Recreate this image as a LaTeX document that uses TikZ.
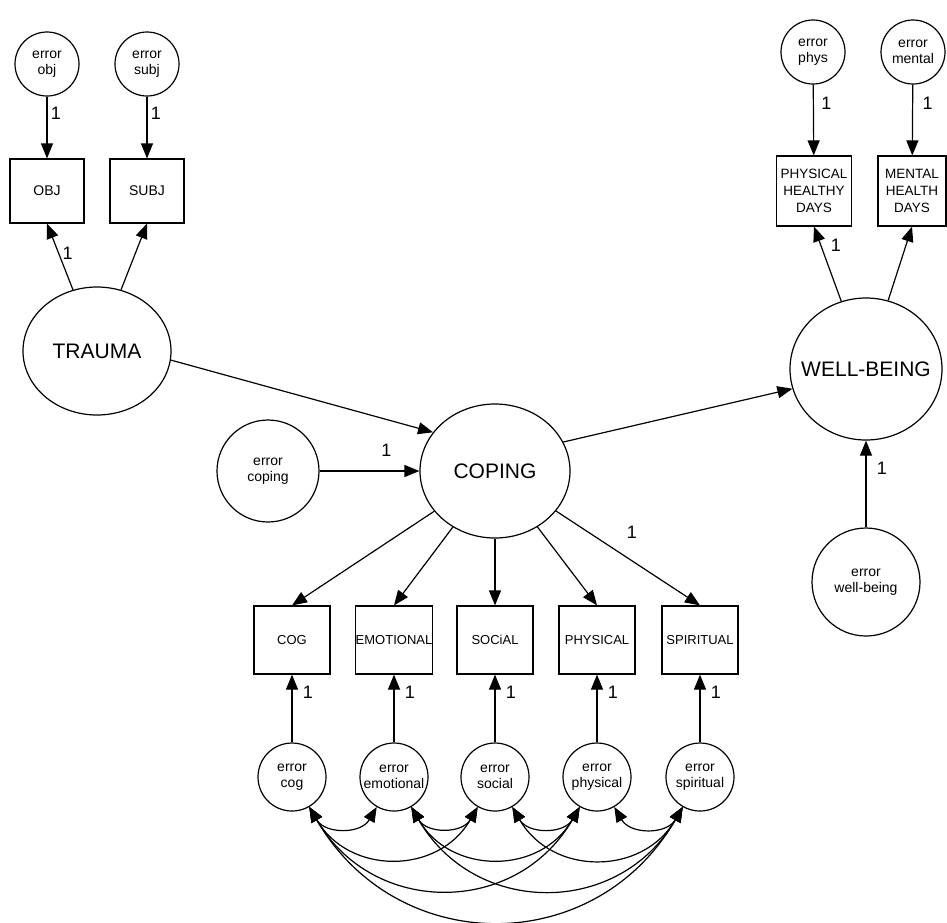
\documentclass[tikz,border=0pt]{standalone}
\usepackage{fontspec}
\setmainfont{Liberation Sans}
\usetikzlibrary{shapes.geometric,arrows.meta}

\tikzset{
  latent/.style={draw, ellipse, line width=1.2pt, inner sep=0pt, font=\fontsize{21}{24}\selectfont},
  errvar/.style={draw, circle, line width=1.2pt, inner sep=0pt, minimum size=64pt, align=center, font=\fontsize{14}{16}\selectfont},
  obsbox/.style={draw, rectangle, line width=1.2pt, inner sep=0pt, minimum width=76pt, minimum height=68pt, align=center, font=\fontsize{13}{17}\selectfont},
  regr/.style={-{Triangle[length=15pt,width=12pt]}, line width=1.2pt},
  cov/.style={{Triangle[length=15pt,width=12pt]}-{Triangle[length=15pt,width=12pt]}, line width=1.2pt},
  wt/.style={font=\fontsize{18}{18}\selectfont}
}

\begin{document}
\begin{tikzpicture}[x=1pt,y=1pt]
  \useasboundingbox (0,0) rectangle (947,-922);

  % trauma
  \node[errvar] (eobj) at (47,-64) {error\\obj};
  \node[errvar] (esubj) at (147,-64) {error\\subj};
  \node[obsbox, minimum width=74pt, minimum height=64pt, font=\fontsize{14}{16}\selectfont] (obj) at (47,-191) {OBJ};
  \node[obsbox, minimum width=74pt, minimum height=64pt, font=\fontsize{14}{16}\selectfont] (subj) at (147,-191) {SUBJ};
  \node[latent, minimum width=148pt, minimum height=128pt] (trauma) at (97,-351) {TRAUMA};

  \draw[regr] (eobj) -- (obj) node[pos=0.27, right, wt]{1};
  \draw[regr] (esubj) -- (subj) node[pos=0.27, right, wt]{1};
  \draw[regr] (trauma) -- (obj.south) node[pos=0.55, right, wt]{1};
  \draw[regr] (trauma) -- (subj.south);

  % well-being
  \node[errvar] (ephys) at (813,-52) {error\\phys};
  \node[errvar] (ement) at (913,-52) {error\\mental};
  \node[obsbox, minimum width=75pt, minimum height=70pt, font=\fontsize{13.5}{17}\selectfont] (phys) at (814,-191) {PHYSICAL\\HEALTHY\\DAYS};
  \node[obsbox, minimum width=68pt, minimum height=70pt, font=\fontsize{13.5}{17}\selectfont] (ment) at (912,-191) {MENTAL\\HEALTH\\DAYS};
  \node[latent, minimum width=152pt, minimum height=142pt] (wb) at (866,-369) {\makebox[0pt]{WELL-BEING}};
  \node[errvar, minimum size=108pt] (ewb) at (866,-582) {error\\well-being};

  \draw[regr] (ephys) -- (phys) node[pos=0.27, right, wt, xshift=4pt]{1};
  \draw[regr] (ement) -- (ment) node[pos=0.27, right, wt, xshift=6pt]{1};
  \draw[regr] (wb) -- (phys.south) node[pos=0.75, right, wt, xshift=6pt]{1};
  \draw[regr] (wb) -- (ment.south);
  \draw[regr] (ewb) -- (wb) node[pos=0.68, right, wt, xshift=7pt]{1};

  % coping
  \node[latent, minimum width=150pt, minimum height=134pt] (coping) at (495,-471) {COPING};
  \node[errvar, minimum size=102pt] (ecoping) at (268,-471) {error\\coping};

  \draw[regr] (trauma.-7) -- (coping.148);
  \draw[regr] (coping.23) -- (wb.195);
  \draw[regr] (ecoping) -- (coping) node[pos=0.67, above=11pt, wt]{1};

  % coping indicators
  \node[obsbox] (cog) at (292,-640) {COG};
  \node[obsbox] (emo) at (394,-640) {EMOTIONAL};
  \node[obsbox] (soc) at (495,-640) {SOCiAL};
  \node[obsbox] (phy) at (597,-640) {PHYSICAL};
  \node[obsbox] (spi) at (700,-640) {SPIRITUAL};

  \draw[regr] (coping) -- (cog.north);
  \draw[regr] (coping) -- (emo.north);
  \draw[regr] (coping) -- (soc.north);
  \draw[regr] (coping) -- (phy.north);
  \draw[regr] (coping) -- (spi.north) node[pos=0.5, above=16pt, xshift=4pt, wt]{1};

  \node[errvar, minimum size=68pt] (ecog) at (292,-777) {error\\cog};
  \node[errvar, minimum size=68pt] (eemo) at (394,-777) {error\\emotional};
  \node[errvar, minimum size=68pt] (esoc) at (495,-777) {error\\social};
  \node[errvar, minimum size=68pt] (ephy) at (597,-777) {error\\physical};
  \node[errvar, minimum size=68pt] (espi) at (700,-777) {error\\spiritual};

  \draw[regr] (ecog) -- (cog) node[pos=0.74, right, wt, xshift=7pt]{1};
  \draw[regr] (eemo) -- (emo) node[pos=0.74, right, wt, xshift=7pt]{1};
  \draw[regr] (esoc) -- (soc) node[pos=0.74, right, wt, xshift=7pt]{1};
  \draw[regr] (ephy) -- (phy) node[pos=0.74, right, wt, xshift=7pt]{1};
  \draw[regr] (espi) -- (spi) node[pos=0.74, right, wt, xshift=7pt]{1};

  % error covariances
  \draw[cov] (ecog.-60) to[out=-60, in=-120, looseness=1.2] (eemo.-120);
  \draw[cov] (ecog.-60) to[out=-60, in=-120, looseness=1.2] (esoc.-120);
  \draw[cov] (ecog.-60) to[out=-60, in=-120, looseness=1.2] (ephy.-120);
  \draw[cov] (ecog.-60) to[out=-60, in=-120, looseness=1.2] (espi.-120);
  \draw[cov] (eemo.-60) to[out=-60, in=-120, looseness=1.2] (esoc.-120);
  \draw[cov] (eemo.-60) to[out=-60, in=-120, looseness=1.2] (ephy.-120);
  \draw[cov] (eemo.-60) to[out=-60, in=-120, looseness=1.2] (espi.-120);
  \draw[cov] (esoc.-60) to[out=-60, in=-120, looseness=1.2] (ephy.-120);
  \draw[cov] (esoc.-60) to[out=-60, in=-120, looseness=1.2] (espi.-120);
  \draw[cov] (ephy.-60) to[out=-60, in=-120, looseness=1.2] (espi.-120);
\end{tikzpicture}
\end{document}
